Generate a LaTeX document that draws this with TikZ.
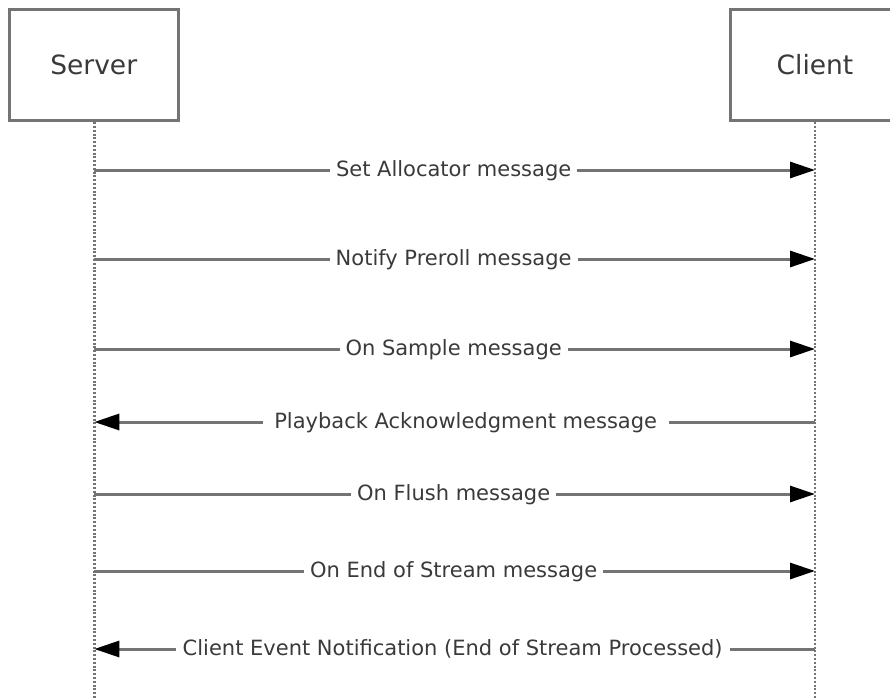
\documentclass[tikz,border=0pt]{standalone}
\usepackage{fontspec}
\setmainfont{DejaVu Sans}
\usetikzlibrary{arrows.meta}
\definecolor{txt}{HTML}{3A3A3A}
\definecolor{ln}{HTML}{747474}
\tikzset{
  actor/.style={draw=ln, line width=2.8pt, fill=white, minimum width=169pt, minimum height=111.5pt,
    font=\fontsize{26.5}{30}\selectfont, text=txt, inner sep=0pt},
  lifeline/.style={draw=ln, line width=2.6pt, dash pattern=on 2pt off 1.8pt},
  msg/.style={draw=ln, line width=3pt, -{Triangle[length=25pt,width=16pt,color=black]}},
  lbl/.style={fill=white, text=txt, font=\fontsize{21}{24}\selectfont, inner xsep=6pt, inner ysep=2pt,
    text height=0.73em, text depth=0pt, yshift=-3pt}
}
\begin{document}
\begin{tikzpicture}[x=1pt,y=-1pt]
\useasboundingbox (0,0) rectangle (890,698);
\clip (0,0) rectangle (890,698);
\node[actor] (server) at (93.7,65) {Server};
\node[actor] (client) at (815,65) {Client};
\coordinate (sEnd) at (94.3,698);
\coordinate (cEnd) at (815,698);
\draw[lifeline] (server.south -| sEnd) -- (sEnd);
\draw[lifeline] (client.south -| cEnd) -- (cEnd);
% message points
\coordinate (s1) at (94.3,170); \coordinate (c1) at (815,170);
\coordinate (s2) at (94.3,259); \coordinate (c2) at (815,259);
\coordinate (s3) at (94.3,349); \coordinate (c3) at (815,349);
\coordinate (s4) at (94.3,422); \coordinate (c4) at (815,422);
\coordinate (s5) at (94.3,494); \coordinate (c5) at (815,494);
\coordinate (s6) at (94.3,571); \coordinate (c6) at (815,571);
\coordinate (s7) at (94.3,649); \coordinate (c7) at (815,649);
\draw[msg] (s1) -- node[lbl, xshift=-1pt] (m1) {Set Allocator message} (c1);
\draw[msg] (s2) -- node[lbl, xshift=-1pt] (m2) {Notify Preroll message} (c2);
\draw[msg] (s3) -- node[lbl, xshift=-1pt] (m3) {On Sample message} (c3);
\draw[msg] (c4) -- node[lbl, xshift=11pt, inner xsep=11.5pt] (m4) {Playback Acknowledgment message} (s4);
\draw[msg] (s5) -- node[lbl, xshift=-1pt] (m5) {On Flush message} (c5);
\draw[msg] (s6) -- node[lbl, xshift=-1pt] (m6) {On End of Stream message} (c6);
\draw[msg] (c7) -- node[lbl, xshift=-2pt, inner xsep=7pt] (m7) {Client Event Notification (End of Stream Processed)} (s7);
\end{tikzpicture}
\end{document}
